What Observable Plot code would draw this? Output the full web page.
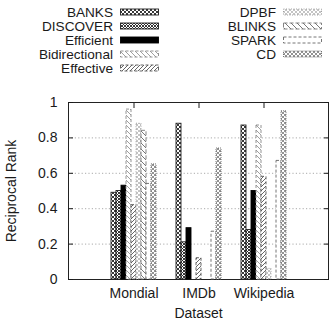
<!DOCTYPE html>
<html>
<head>
<meta charset="utf-8">
<script src="https://cdn.jsdelivr.net/npm/d3@7"></script>
<script src="https://cdn.jsdelivr.net/npm/@observablehq/plot@0.6"></script>
<style>
  body { margin: 0; background: #fff; font-family: "Liberation Sans", Arial, sans-serif; }
  #wrap { position: relative; width: 333px; height: 321px; }
  #legend { position: absolute; left: 0; top: 0; }
  #axes, #bars { position: absolute; left: 0; top: 85px; }
</style>
</head>
<body>
<svg width="0" height="0" style="position:absolute">
  <defs>
    <pattern id="pat-banks" width="4" height="4" patternUnits="userSpaceOnUse">
      <rect width="4" height="4" fill="#fff"/>
      <path d="M0,0L4,4M4,0L0,4" stroke="#222" stroke-width="0.9"/>
    </pattern>
    <pattern id="pat-discover" width="3" height="3" patternUnits="userSpaceOnUse">
      <rect width="3" height="3" fill="#fff"/>
      <path d="M0,0L3,3M3,0L0,3" stroke="#222" stroke-width="0.9"/>
    </pattern>
    <pattern id="pat-efficient" width="4" height="4" patternUnits="userSpaceOnUse">
      <rect width="4" height="4" fill="#000"/>
    </pattern>
    <pattern id="pat-bidirectional" width="5" height="5" patternUnits="userSpaceOnUse">
      <rect width="5" height="5" fill="#fff"/>
      <path d="M0,0L5,5M-1,4L1,6M4,-1L6,1" stroke="#888" stroke-width="0.8"/>
    </pattern>
    <pattern id="pat-effective" width="4" height="4" patternUnits="userSpaceOnUse">
      <rect width="4" height="4" fill="#fff"/>
      <path d="M0,4L4,0M-1,1L1,-1M3,5L5,3" stroke="#555" stroke-width="0.9"/>
    </pattern>
    <pattern id="pat-dpbf" width="4" height="4" patternUnits="userSpaceOnUse">
      <rect width="4" height="4" fill="#fff"/>
      <path d="M0,4L4,0M0,0L4,4" stroke="#aaa" stroke-width="0.7"/>
    </pattern>
    <pattern id="pat-blinks" width="6" height="6" patternUnits="userSpaceOnUse">
      <rect width="6" height="6" fill="#fff"/>
      <path d="M0,0L6,6M-1,5L1,7M5,-1L7,1" stroke="#777" stroke-width="1"/>
    </pattern>
    <pattern id="pat-spark" width="4" height="4" patternUnits="userSpaceOnUse">
      <rect width="4" height="4" fill="#fff"/>
    </pattern>
    <pattern id="pat-cd" width="4" height="4" patternUnits="userSpaceOnUse">
      <rect width="4" height="4" fill="#fff"/>
      <path d="M0,0L4,4M4,0L0,4" stroke="#777" stroke-width="0.8"/>
    </pattern>
  </defs>
</svg>
<div id="wrap">
  <div id="legend"></div>
  <div id="axes"></div>
  <div id="bars"></div>
</div>
<script>
// Datasets on the x axis and the search methods compared in each group
const datasets = ["Mondial", "IMDb", "Wikipedia"];
const methods = ["BANKS", "DISCOVER", "Efficient", "Bidirectional", "Effective", "DPBF", "BLINKS", "SPARK", "CD"];

// Reciprocal rank per method, in dataset order (Mondial, IMDb, Wikipedia)
const banks         = [0.49, 0.88, 0.87];
const discover      = [0.50, 0.21, 0.28];
const efficient     = [0.53, 0.29, 0.50];
const bidirectional = [0.96, 0.00, 0.87];
const effective     = [0.42, 0.12, 0.58];
const dpbf          = [0.88, 0.00, 0.06];
const blinks        = [0.84, 0.00, 0.00];
const spark         = [0.54, 0.27, 0.67];
const cd            = [0.65, 0.74, 0.95];

// Y axis ticks and their labels
const yTicks = [0, 0.2, 0.4, 0.6, 0.8, 1];
const yTickLabels = ["0", "0.2", "0.4", "0.6", "0.8", "1"];
const gridTicks = [0.2, 0.4, 0.6, 0.8];

const valuesByMethod = [banks, discover, efficient, bidirectional, effective, dpbf, blinks, spark, cd];

// Fill pattern and outline style for each method
const methodStyle = {
  BANKS:         {fill: "url(#pat-banks)",         stroke: "#222", dash: null},
  DISCOVER:      {fill: "url(#pat-discover)",      stroke: "#222", dash: null},
  Efficient:     {fill: "url(#pat-efficient)",     stroke: "#000", dash: null},
  Bidirectional: {fill: "url(#pat-bidirectional)", stroke: "#888", dash: "3,2"},
  Effective:     {fill: "url(#pat-effective)",     stroke: "#555", dash: "3,2"},
  DPBF:          {fill: "url(#pat-dpbf)",          stroke: "#999", dash: "1,1.5"},
  BLINKS:        {fill: "url(#pat-blinks)",        stroke: "#777", dash: "4,2"},
  SPARK:         {fill: "url(#pat-spark)",         stroke: "#666", dash: "3,2"},
  CD:            {fill: "url(#pat-cd)",            stroke: "#666", dash: "1,1"}
};

// Long table: one row per (dataset, method)
const rows = [];
methods.forEach((m, i) => {
  datasets.forEach((d, j) => rows.push({dataset: d, method: m, value: valuesByMethod[i][j]}));
});

const W = 333, H = 236;
const margins = {marginTop: 17, marginBottom: 42, marginLeft: 68, marginRight: 5};
const bandPadding = {paddingInner: 0.25, paddingOuter: 0.625};
const font = {fontFamily: "'Liberation Sans', Arial, sans-serif", fontSize: "14px", color: "#1a1a1a", background: "transparent"};

// Bottom layer: grid, frame, axes and labels
const axes = Plot.plot({
  width: W, height: H, ...margins,
  style: font,
  x: {type: "band", domain: datasets, ...bandPadding, axis: null},
  y: {domain: [0, 1], axis: null},
  marks: [
    Plot.ruleY(gridTicks, {stroke: "#aaa", strokeDasharray: "1.2,2.2"}),
    Plot.frame({stroke: "#222"}),
    Plot.axisY(yTicks, {anchor: "left", tickSize: 0, tickPadding: 11, tickFormat: (d, i) => yTickLabels[i],
      label: "Reciprocal Rank", labelArrow: "none", labelAnchor: "center", labelOffset: 62}),
    Plot.axisY(yTicks, {anchor: "left", tickSize: -5, tickFormat: () => "", label: null}),
    Plot.axisY(yTicks, {anchor: "right", tickSize: -5, tickFormat: () => "", label: null}),
    Plot.axisX(datasets, {anchor: "top", tickSize: -5, tickFormat: () => "", label: null}),
    Plot.axisX(datasets, {anchor: "bottom", tickSize: 0, tickPadding: 9,
      label: "Dataset", labelArrow: "none", labelAnchor: "center", labelOffset: 38})
  ]
});
document.getElementById("axes").append(axes);

// Top layer: grouped bars, one facet per dataset
const bars = Plot.plot({
  width: W, height: H, ...margins,
  style: font,
  fx: {domain: datasets, ...bandPadding, axis: null},
  x: {domain: methods, padding: 0, axis: null},
  y: {domain: [0, 1], axis: null},
  marks: methods.map(m => Plot.barY(rows.filter(r => r.method === m && r.value > 0), {
    fx: "dataset", x: "method", y: "value",
    fill: methodStyle[m].fill, stroke: methodStyle[m].stroke,
    strokeWidth: 0.9, strokeDasharray: methodStyle[m].dash
  }))
});
document.getElementById("bars").append(bars);

// Legend: two columns of labels with pattern swatches
const legend = d3.select("#legend").append("svg").attr("width", W).attr("height", 85)
  .style("font-family", "'Liberation Sans', Arial, sans-serif").style("font-size", "13.6px");
const colText = [113, 276], rowY0 = 12, rowStep = 14, swW = 38, swH = 6;
const item = legend.selectAll("g").data(methods).join("g")
  .attr("transform", (m, i) => `translate(${colText[i < 5 ? 0 : 1]},${rowY0 + (i % 5) * rowStep})`);
item.append("text").attr("text-anchor", "end").attr("dy", "0.35em").attr("fill", "#1a1a1a").text(m => m);
item.append("rect").attr("x", 7.5).attr("y", -swH / 2).attr("width", swW).attr("height", swH)
  .attr("fill", m => methodStyle[m].fill).attr("stroke", m => methodStyle[m].stroke)
  .attr("stroke-width", 0.9).attr("stroke-dasharray", m => methodStyle[m].dash);
</script>
</body>
</html>
